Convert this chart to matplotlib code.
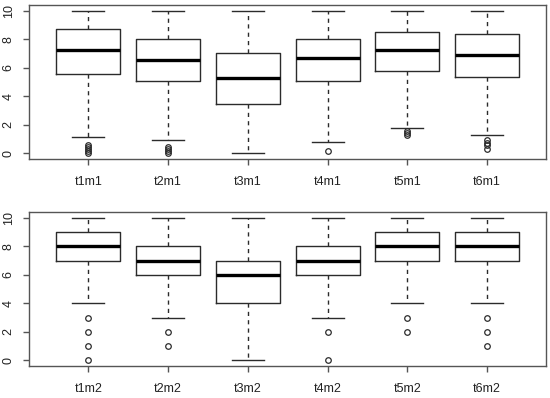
import matplotlib
matplotlib.use("Agg")
import matplotlib.pyplot as plt

plt.rcParams["font.family"] = ["Liberation Sans", "DejaVu Sans"]

# Panel 1 (m1) summary stats
labels_m1 = ["t1m1", "t2m1", "t3m1", "t4m1", "t5m1", "t6m1"]
q1_m1 = [5.55, 5.06, 3.43, 5.06, 5.77, 5.39]
med_m1 = [7.27, 6.54, 5.27, 6.66, 7.27, 6.90]
q3_m1 = [8.75, 8.05, 7.06, 8.05, 8.54, 8.38]
wlo_m1 = [1.16, 0.90, 0.0, 0.78, 1.79, 1.27]
whi_m1 = [10, 10, 10, 10, 10, 10]
out_m1 = [[0.0, 0.15, 0.3, 0.45, 0.6],
          [0.0, 0.15, 0.3, 0.45],
          [],
          [0.17],
          [1.3, 1.44, 1.55],
          [0.31, 0.6, 0.75, 0.9]]

# Panel 2 (m2)
labels_m2 = ["t1m2", "t2m2", "t3m2", "t4m2", "t5m2", "t6m2"]
q1_m2 = [7, 6, 4, 6, 7, 7]
med_m2 = [8, 7, 6, 7, 8, 8]
q3_m2 = [9, 8, 7, 8, 9, 9]
wlo_m2 = [4, 3, 0, 3, 4, 4]
whi_m2 = [10, 10, 10, 10, 10, 10]
out_m2 = [[0, 1, 2, 3], [1, 2], [], [0, 2], [2, 3], [1, 2, 3]]

LINE = "#2b2b2b"
FRAME = "#555555"


def draw_panel(ax, labels, q1, med, q3, wlo, whi, outs):
    stats = []
    for i, lab in enumerate(labels):
        stats.append({
            "label": lab, "q1": q1[i], "med": med[i], "q3": q3[i],
            "whislo": wlo[i], "whishi": whi[i], "fliers": outs[i],
        })
    ax.bxp(stats, positions=range(1, len(labels) + 1), widths=0.8,
           showfliers=True, patch_artist=False,
           boxprops=dict(color=LINE, lw=1.0),
           medianprops=dict(color="black", lw=2.4, solid_capstyle="butt"),
           whiskerprops=dict(color=LINE, lw=1.0, linestyle=(0, (3, 3))),
           capprops=dict(color=LINE, lw=1.0),
           capwidths=0.4,
           flierprops=dict(marker="o", markerfacecolor="none",
                           markeredgecolor=LINE, markersize=4.0,
                           markeredgewidth=0.9))
    ax.set_xlim(0.26, 6.74)
    ax.set_ylim(-0.4, 10.4)
    ax.set_yticks([0, 2, 4, 6, 8, 10])
    for s in ax.spines.values():
        s.set_color(FRAME)
        s.set_linewidth(1.0)
    ax.tick_params(axis="both", colors=FRAME, length=4.5, width=1.0,
                   labelcolor="#222222", labelsize=9)
    ax.tick_params(axis="x", pad=8)
    for t in ax.get_yticklabels():
        t.set_rotation(90)
        t.set_va("center")
    ax.tick_params(axis="y", labelsize=9, pad=6)


fig = plt.figure(figsize=(5.5, 3.98), dpi=100)
ax1 = fig.add_axes([0.0533, 0.6005, 0.9397, 0.3865])
ax2 = fig.add_axes([0.0533, 0.0804, 0.9397, 0.3862])

draw_panel(ax1, labels_m1, q1_m1, med_m1, q3_m1, wlo_m1, whi_m1, out_m1)
draw_panel(ax2, labels_m2, q1_m2, med_m2, q3_m2, wlo_m2, whi_m2, out_m2)

fig.savefig("out.png", dpi=100)
